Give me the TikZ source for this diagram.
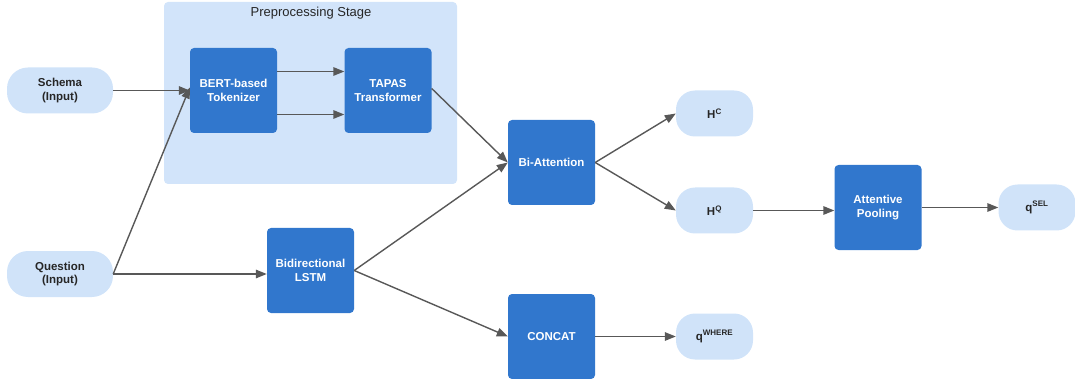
\documentclass[tikz,border=0pt]{standalone}
\usepackage{fontspec}
\setmainfont{Liberation Sans}
\usetikzlibrary{arrows.meta}
\definecolor{procblue}{RGB}{49,119,205}
\definecolor{paleblue}{RGB}{208,227,249}
\definecolor{stagebg}{RGB}{210,228,250}
\definecolor{linkgrey}{RGB}{88,88,88}
\tikzset{
  proc/.style={rectangle, rounded corners=4pt, fill=procblue, text=white,
    minimum width=87pt, minimum height=85pt, align=center,
    font=\fontsize{11.5}{13.5}\selectfont\bfseries},
  pill/.style={rectangle, rounded corners=21pt, fill=paleblue, text=black!85,
    minimum width=106pt, minimum height=46pt, align=center,
    font=\fontsize{11.5}{13.5}\selectfont\bfseries},
  outpill/.style={pill, minimum width=77pt, rounded corners=19pt},
  link/.style={draw=linkgrey, line width=1.4pt,
    -{Triangle[length=11pt,width=8.5pt]}},
}
\newcommand{\sps}[1]{\textsuperscript{\fontsize{8}{8}\selectfont #1}}
\begin{document}
\begin{tikzpicture}[x=1pt,y=-1pt]
  \useasboundingbox (0,0) rectangle (1075,379);
  \clip (0,0) rectangle (1075,379);

  % preprocessing stage container
  \node[rectangle, rounded corners=4pt, fill=stagebg, minimum width=293pt,
    minimum height=182pt] (stage) at (310.5,93) {};
  \node[font=\fontsize{13}{15}\selectfont, text=black!85] (stagetitle) at (311,13) {Preprocessing Stage};

  % inputs
  \node[pill] (schema) at (60,90.5) {Schema\\(Input)};
  \node[pill] (question) at (60,274) {Question\\(Input)};

  % processing blocks
  \node[proc] (bert) at (233.5,90.5) {BERT-based\\Tokenizer};
  \node[proc] (tapas) at (388,90.5) {TAPAS\\Transformer};
  \node[proc] (lstm) at (310.5,270.5) {Bidirectional\\LSTM};
  \node[proc] (biatt) at (551.5,162.5) {Bi-Attention};
  \node[proc] (concat) at (551.5,336.5) {CONCAT};
  \node[proc] (pool) at (878,207.5) {Attentive\\Pooling};

  % outputs
  \node[outpill] (hc) at (714.5,113.5) {H\sps{C}};
  \node[outpill] (hq) at (714.5,210.5) {H\sps{Q}};
  \node[outpill] (qwhere) at (714.5,336.5) {q\sps{WHERE}};
  \node[outpill] (qsel) at (1037,207.5) {q\sps{SEL}};

  % connectors
  \draw[link] (schema.east) -- (bert.west);
  \draw[link] (question.east) -- ([yshift=3pt]bert.west);
  \draw[link] ([yshift=-24pt]bert.east) -- ([yshift=-24pt]tapas.west);
  \draw[link] ([yshift=19pt]bert.east) -- ([yshift=19pt]tapas.west);
  \draw[link] (question.east) -- (question.east -| lstm.west);
  \draw[link] ([yshift=2pt]tapas.east) -- (biatt.west);
  \draw[link] (lstm.east) -- (biatt.west);
  \draw[link] (lstm.east) -- (concat.west);
  \draw[link] (biatt.east) -- (hc.west);
  \draw[link] (biatt.east) -- (hq.west);
  \draw[link] (hq.east) -- (hq.east -| pool.west);
  \draw[link] (pool.east) -- (qsel.west);
  \draw[link] (concat.east) -- (qwhere.west);
\end{tikzpicture}
\end{document}
